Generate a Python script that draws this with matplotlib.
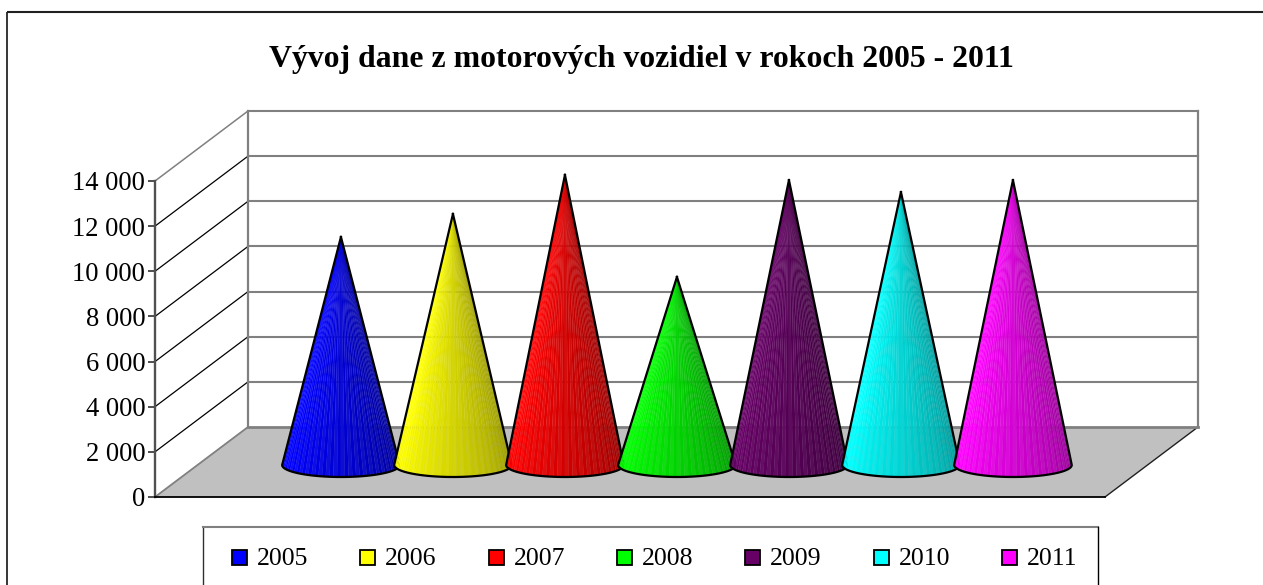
import numpy as np
import matplotlib
matplotlib.use('Agg')
import matplotlib.pyplot as plt
from matplotlib.patches import Polygon, Rectangle
from matplotlib.colors import to_rgb
from matplotlib.ticker import FuncFormatter

years = ['2005', '2006', '2007', '2008', '2009', '2010', '2011']
values = [9970, 10990, 12720, 8200, 12490, 11960, 12490]
colors = ['#0000ff', '#ffff00', '#ff0000', '#00ff00', '#660066', '#00ffff', '#ff00ff']
yticks = [0, 2000, 4000, 6000, 8000, 10000, 12000, 14000]
title = 'Vývoj dane z motorových vozidiel v rokoch 2005 - 2011'

W, H = 1263, 585
plt.rcParams['font.family'] = ['Liberation Serif', 'DejaVu Serif']

fig = plt.figure(figsize=(W/100, H/100), dpi=100)

# front plane of the 3D box, pixels from the picture
left, right, top, bottom = 155, 1105, 181, 497
ax = fig.add_axes([left/W, 1-bottom/H, (right-left)/W, (bottom-top)/H])
ax.set_ylim(0, 14000)
ax.set_xlim(-1.245, 7.237)
ax.patch.set_visible(False)
ax.set_xticks([])
ax.set_yticks(yticks)
ax.yaxis.set_major_formatter(FuncFormatter(lambda v, p: f'{int(v):,}'.replace(',', ' ')))
ax.tick_params(axis='y', labelsize=19.2, length=5, width=1.3, color='#404040', pad=2, labelcolor='black')
for s in ['top', 'right']:
    ax.spines[s].set_visible(False)
ax.spines['left'].set_color('#505050')
ax.spines['left'].set_linewidth(1.7)
ax.spines['bottom'].set_color('black')
ax.spines['bottom'].set_linewidth(1.3)

# depth of the box in data units
xmin, xmax = ax.get_xlim()
dx = 93/(right-left)*(xmax-xmin)
dy = 70/(bottom-top)*14000
grey = '#808080'

# floor
ax.add_patch(Polygon([(xmin, 0), (xmax, 0), (xmax+dx, dy), (xmin+dx, dy)], closed=True,
                     fc='#c0c0c0', ec='none', clip_on=False, zorder=1))
ax.plot([xmin, xmin+dx], [0, dy], color=grey, lw=1.3, clip_on=False, zorder=2)
ax.plot([xmax, xmax+dx], [0, dy], color='#202020', lw=1.0, clip_on=False, zorder=2)
ax.plot([xmin+dx, xmax+dx], [dy, dy], color=grey, lw=2, clip_on=False, zorder=2)

# walls and gridlines
for v in yticks[1:]:
    last = v == yticks[-1]
    ax.plot([xmin, xmin+dx], [v, v+dy], color=grey if last else 'black', lw=1.1 if last else 0.9,
            clip_on=False, zorder=2)
    ax.plot([xmin+dx, xmax+dx], [v+dy, v+dy], color=grey, lw=1.5, clip_on=False, zorder=2)
for xx in [xmin+dx, xmax+dx]:
    ax.plot([xx, xx], [dy, 14000+dy], color=grey, lw=1.6, clip_on=False, zorder=2)

# cones: a fan of flat facets, lit from the front left
rx = 0.525
ry = 12/(bottom-top)*14000
n_facets = 48
for i, (v, c) in enumerate(zip(values, colors)):
    base = np.array(to_rgb(c))
    cx = i + dx/2
    cy = dy/2 - 133
    apex = v + dy/2
    z = 10 + i
    th = np.linspace(np.pi, 2*np.pi, n_facets+1)
    ex = cx + rx*np.cos(th)
    ey = cy + ry*np.sin(th)
    for k in range(n_facets):
        t = (k+0.5)/n_facets
        shade = 1.0 if t < 0.15 else 1.0 - 0.42*(t-0.15)/0.85
        facet = base*shade
        if k % 2 == 0:
            facet = facet + (1-facet)*0.05
        ax.add_patch(Polygon([(cx, apex), (ex[k], ey[k]), (ex[k+1], ey[k+1])], closed=True,
                             fc=facet, ec=facet, lw=0.2, clip_on=False, zorder=z))
    ax.plot(np.r_[cx, ex, cx], np.r_[apex, ey, apex], color='black', lw=1.6, clip_on=False,
            zorder=z, solid_joinstyle='round')

# figure-level frame, title and legend
over = fig.add_axes([0, 0, 1, 1])
over.set_xlim(0, W)
over.set_ylim(H, 0)
over.axis('off')
over.patch.set_visible(False)
over.plot([7, 7], [12, H], color='black', lw=1.1, solid_capstyle='butt')
over.plot([7, W], [12, 12], color='#202020', lw=1.5, solid_capstyle='butt')
over.text(641.5, 59, title, ha='center', va='center', fontsize=22.9, fontweight='bold')

over.plot([203, 203], [527, H], color='#303030', lw=1.0)
over.plot([203, 1098], [527, 527], color=grey, lw=1.5)
over.plot([1098, 1098], [527, H], color='black', lw=1.0)
for i, (y, c) in enumerate(zip(years, colors)):
    x0 = 232 + i*128.3
    over.add_patch(Rectangle((x0, 550), 15, 15, fc=c, ec='black', lw=1.3))
    over.text(x0+25, 559, y, ha='left', va='center', fontsize=18.5)

fig.savefig('out.png', dpi=100)
